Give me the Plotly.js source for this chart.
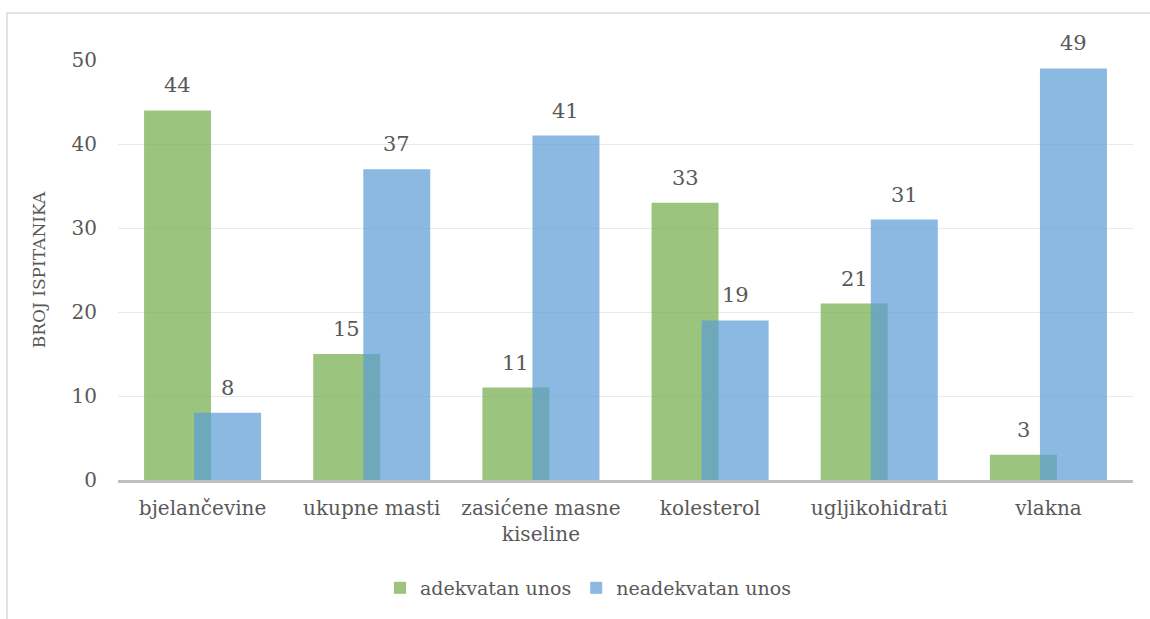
<!DOCTYPE html>
<html>
<head>
<meta charset="utf-8">
<script src="https://cdn.plot.ly/plotly-3.0.1.min.js"></script>
<style>html,body{margin:0;padding:0;background:#fff;}#chart{width:1150px;height:619px;}</style>
</head>
<body>
<div id="chart"></div>
<script>
const categories = ["bjelančevine", "ukupne masti", "zasićene masne<br>kiseline", "kolesterol", "ugljikohidrati", "vlakna"];
const adekvatan = [44, 15, 11, 33, 21, 3];
const neadekvatan = [8, 37, 41, 19, 31, 49];
const seriesNames = ["adekvatan unos", "neadekvatan unos"];
const yTicks = [0, 10, 20, 30, 40, 50];

const FONT = 'DejaVu Serif, Liberation Serif, Times New Roman, serif';
const GRAY = '#595959';
const BW = 0.396, SHIFT = 0.148;

const traces = [
  {type:'bar', name:seriesNames[0], x:categories, y:adekvatan, width:BW, offset:-SHIFT-BW/2,
   marker:{color:'rgba(112,173,71,0.7)'}, hoverinfo:'y'},
  {type:'bar', name:seriesNames[1], x:categories, y:neadekvatan, width:BW, offset:SHIFT-BW/2,
   marker:{color:'rgba(91,155,213,0.7)'}, hoverinfo:'y'}
];

const annotations = [];
[adekvatan, neadekvatan].forEach((vals, s) => {
  vals.forEach((v, i) => {
    annotations.push({x: i + (s === 0 ? -SHIFT : SHIFT), y: v, xref:'x', yref:'y', text:String(v),
      showarrow:false, yanchor:'middle', yshift:25, font:{family:FONT, size:21, color:GRAY}});
  });
});

const L = 118, R = 1133, T = 60, B = 480;
const px = v => (v - L) / (R - L);
const py = v => (B - v) / (B - T);

const layout = {
  width:1150, height:619,
  margin:{l:L, r:1150-R, t:T, b:619-B, pad:0},
  paper_bgcolor:'#fff', plot_bgcolor:'#fff',
  barmode:'overlay',
  font:{family:FONT, color:GRAY, size:20},
  showlegend:true,
  legend:{orientation:'h', x:px(588), xanchor:'center', y:py(588), yanchor:'middle',
    font:{family:FONT, size:19, color:GRAY}, traceorder:'normal', itemwidth:30},
  xaxis:{type:'category', showgrid:false, showline:true, linecolor:'#BFBFBF', linewidth:2.5,
    ticks:'', ticklabelstandoff:8, tickfont:{family:FONT, size:20, color:GRAY}, fixedrange:true, range:[-0.5, 5.5]},
  yaxis:{range:[0,50], tickvals:yTicks, showgrid:true, gridcolor:'#E9E9E9', gridwidth:1,
    zeroline:false, showline:false, ticks:'', ticklabelstandoff:20,
    tickfont:{family:FONT, size:20, color:GRAY},
    title:{text:'BROJ ISPITANIKA', font:{family:FONT, size:17, color:GRAY}, standoff:21}},
  annotations: annotations,
  shapes:[
    {type:'line', xref:'paper', yref:'paper', x0:px(7), x1:px(1160), y0:py(13), y1:py(13), line:{color:'#D9D9D9', width:1.5}},
    {type:'line', xref:'paper', yref:'paper', x0:px(7), x1:px(7), y0:py(13), y1:py(640), line:{color:'#D9D9D9', width:1.5}}
  ]
};

Plotly.newPlot('chart', traces, layout, {displayModeBar:false, staticPlot:true});
</script>
</body>
</html>
